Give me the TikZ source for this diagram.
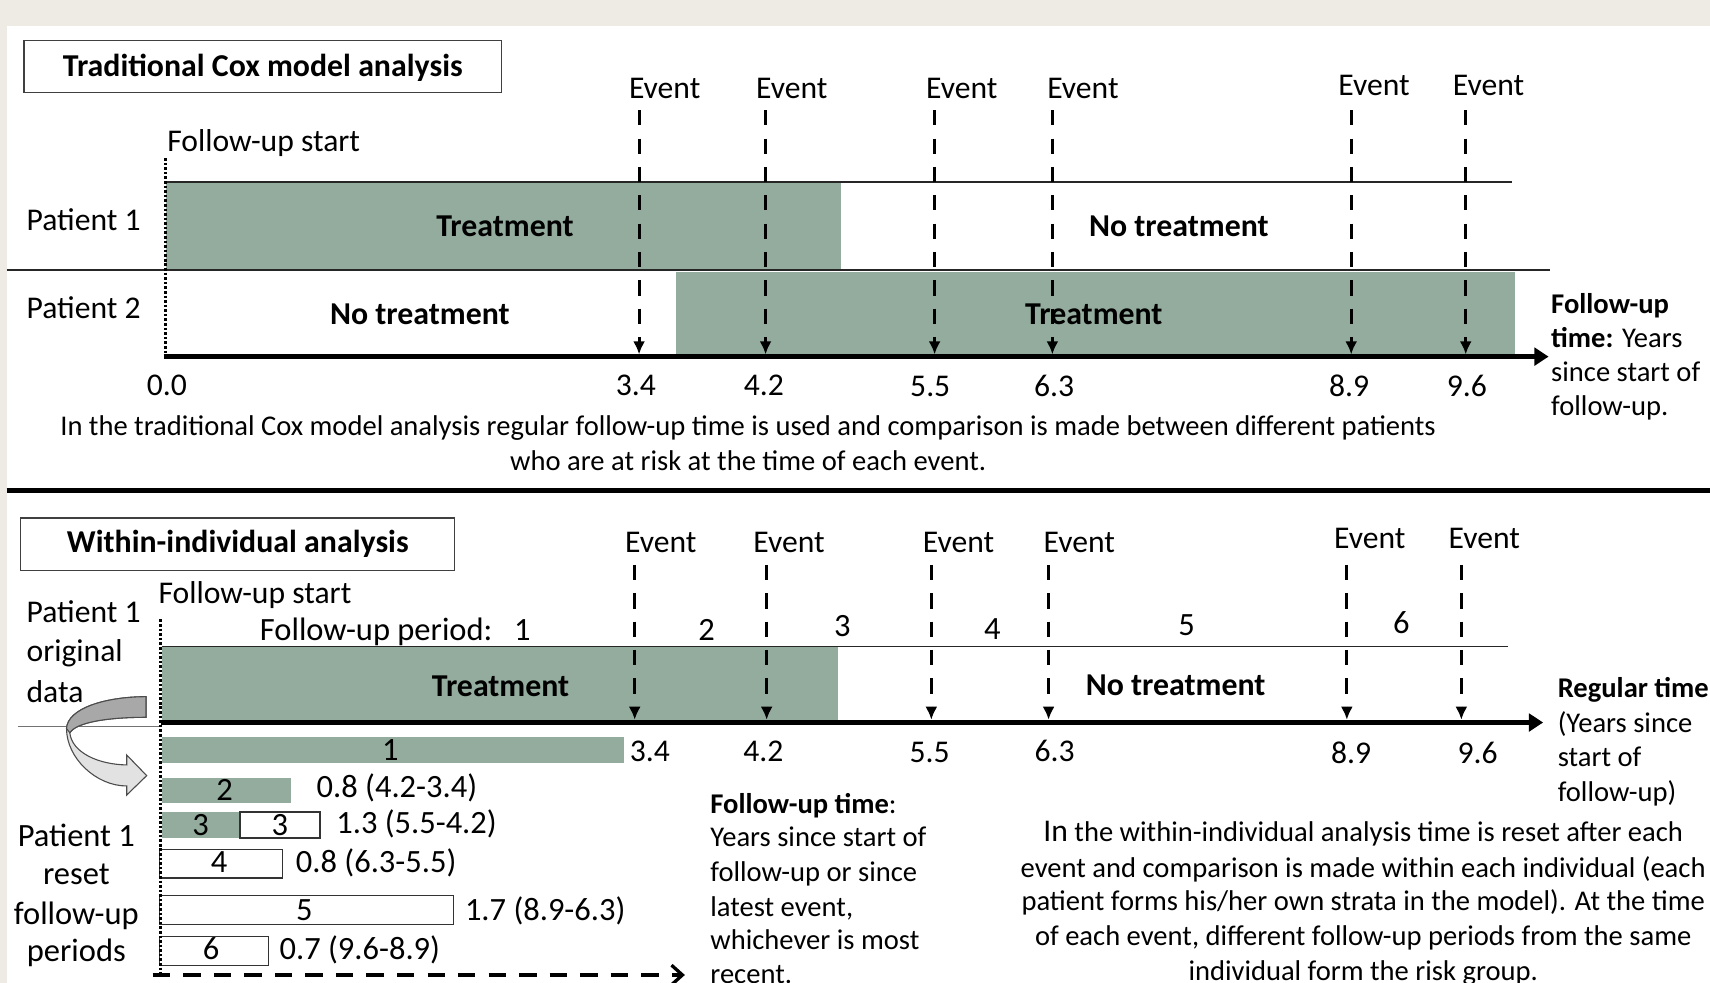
\documentclass[tikz,border=0pt]{standalone}
\usepackage{fontspec}
\setmainfont{Carlito}
\usetikzlibrary{arrows.meta}
\definecolor{grn}{RGB}{147,172,158}
\definecolor{bgc}{RGB}{238,235,228}
\definecolor{arrdark}{RGB}{168,168,168}
\definecolor{arrlight}{RGB}{226,226,226}
\begin{document}
\begin{tikzpicture}[x=0.5pt,y=-0.5pt,
  fa/.style={font=\fontsize{14.5}{17}\selectfont, inner sep=0pt},
  fab/.style={font=\fontsize{14.6}{17}\selectfont\bfseries, inner sep=0pt},
  fb/.style={font=\fontsize{13.1}{15.5}\selectfont, inner sep=0pt},
  fc/.style={font=\fontsize{14.9}{18}\selectfont, inner sep=0pt},
  evline/.style={line width=1.4pt, dash pattern=on 7pt off 6pt, -{Latex[width=5.5pt,length=6pt]}},
  dotv/.style={line width=1.3pt, dash pattern=on 1.2pt off 0.9pt},
  thinl/.style={line width=0.6pt, draw=black!85},
  axisl/.style={line width=2.3pt, -{Triangle[width=8pt,length=6.5pt]}},
  boxl/.style={draw=black!75, line width=0.6pt},
  barbox/.style={draw=black!80, line width=0.6pt, fill=white}
]
\useasboundingbox (0,0) rectangle (1568,901);
\fill[bgc] (0,0) rectangle (1568,901);
\fill[white] (6,24) rectangle (1568,901);

% ================= TOP =================
\draw[boxl] (22,37) rectangle (460,85);
\node[fab, anchor=base] (t1) at (241,70.5) {Traditional Cox model analysis};

\fill[grn] (152,168) rectangle (771,246.5);
\fill[grn] (620,249) rectangle (1389,325);
\draw[thinl] (152,167) -- (1386,167);
\draw[thinl] (6,247.5) -- (1421,247.5);

\coordinate (fs1t) at (152,145);
\coordinate (fs1b) at (152,325);
\draw[dotv] (fs1t) -- (fs1b);

\coordinate (ax1s) at (150,327);
\coordinate (ax1e) at (1420,327);
\draw[axisl] (ax1s) -- (ax1e);

\foreach \i/\x in {1/586,2/702,3/857,4/965,5/1239,6/1344}{
  \coordinate (te\i t) at (\x,101);
  \coordinate (te\i b) at (\x,325);
  \draw[evline] (te\i t) -- (te\i b);
}
\node[fa, anchor=base] (tev1) at (609.5,90) {Event};
\node[fa, anchor=base] (tev2) at (726,90) {Event};
\node[fa, anchor=base] (tev3) at (882,90) {Event};
\node[fa, anchor=base] (tev4) at (993,90) {Event};
\node[fa, anchor=base] (tev5) at (1260,87.5) {Event};
\node[fa, anchor=base] (tev6) at (1365,87.5) {Event};

\node[fa, anchor=base west] (tfs) at (153,139) {Follow-up start};
\node[fa, anchor=base west] (tp1) at (24,211) {Patient 1};
\node[fa, anchor=base west] (tp2) at (24,292) {Patient 2};
\node[fab, anchor=base] (ttr1) at (463,217) {Treatment};
\node[fab, anchor=base] (tnt1) at (1081,217) {No treatment};
\node[fab, anchor=base] (tnt2) at (385,298) {No treatment};
\node[fab, anchor=base] (ttr2) at (1003,297.5) {Treatment};

\node[fa, anchor=base] (tn0) at (153,363) {0.0};
\node[fa, anchor=base] (tn1) at (583,363) {3.4};
\node[fa, anchor=base] (tn2) at (700.5,363) {4.2};
\node[fa, anchor=base] (tn3) at (853,364) {5.5};
\node[fa, anchor=base] (tn4) at (966.5,364) {6.3};
\node[fa, anchor=base] (tn5) at (1237,364) {8.9};
\node[fa, anchor=base] (tn6) at (1345,364) {9.6};

\node[fb, anchor=base west] (tr1) at (1422,287) {\textbf{Follow-up}};
\node[fb, anchor=base west] (tr2) at (1422,319) {\textbf{time:} Years};
\node[fb, anchor=base west] (tr3) at (1422,349.5) {since start of};
\node[fb, anchor=base west] (tr4) at (1422,381) {follow-up.};

\node[fb, anchor=base] (tc1) at (686,399) {In the traditional Cox model analysis regular follow-up time is used and comparison is made between different patients};
\node[fb, anchor=base] (tc2) at (686,431) {who are at risk at the time of each event.};

\coordinate (sepl) at (6,450);
\coordinate (sepr) at (1568,450);
\draw[line width=2.3pt] (sepl) -- (sepr);

% ================= BOTTOM =================
\draw[boxl] (19,475) rectangle (417,523);
\node[fab, anchor=base] (b1) at (218,507) {Within-individual analysis};

\fill[grn] (148.5,593.5) rectangle (768,660);
\draw[thinl] (148.5,593) -- (1383,593);
\draw[line width=0.6pt, draw=black!55] (16.5,666) -- (148,666);

\coordinate (ax2s) at (148,662.5);
\coordinate (ax2e) at (1415,662.5);
\draw[axisl] (ax2s) -- (ax2e);

\foreach \i/\x in {1/582,2/703,3/854,4/961.5,5/1235,6/1340}{
  \coordinate (be\i t) at (\x,518);
  \coordinate (be\i b) at (\x,660);
  \draw[evline] (be\i t) -- (be\i b);
}
\node[fa, anchor=base] (bev1) at (606,507) {Event};
\node[fa, anchor=base] (bev2) at (723.6,507) {Event};
\node[fa, anchor=base] (bev3) at (879,507) {Event};
\node[fa, anchor=base] (bev4) at (989.6,507) {Event};
\node[fa, anchor=base] (bev5) at (1256,503) {Event};
\node[fa, anchor=base] (bev6) at (1361,503) {Event};

\node[fa, anchor=base west] (bfs) at (145,553) {Follow-up start};
\node[fa, anchor=base west] (bo1) at (24,571) {Patient 1};
\node[fa, anchor=base west] (bo2) at (24,607) {original};
\node[fa, anchor=base west] (bo3) at (24,644) {data};

\node[fc, anchor=base west] (bfp) at (238,587) {Follow-up period:};
\node[fc, anchor=base] (bp1) at (479,587) {1};
\node[fc, anchor=base] (bp2) at (648,587) {2};
\node[fc, anchor=base] (bp3) at (772.5,584) {3};
\node[fc, anchor=base] (bp4) at (910,586) {4};
\node[fc, anchor=base] (bp5) at (1088,582.5) {5};
\node[fc, anchor=base] (bp6) at (1285,581) {6};

\node[fab, anchor=base] (btr) at (459,639) {Treatment};
\node[fab, anchor=base] (bnt) at (1078,638) {No treatment};

\node[fa, anchor=base] (bn1) at (596,698) {3.4};
\node[fa, anchor=base] (bn2) at (700,698) {4.2};
\node[fa, anchor=base] (bn3) at (852.5,699) {5.5};
\node[fa, anchor=base] (bn4) at (967,698) {6.3};
\node[fa, anchor=base] (bn5) at (1239,700) {8.9};
\node[fa, anchor=base] (bn6) at (1355,700) {9.6};

\node[fb, anchor=base west] (br1) at (1428,640) {\textbf{Regular time}};
\node[fb, anchor=base west] (br2) at (1428,672) {(Years since};
\node[fb, anchor=base west] (br3) at (1428,703) {start of};
\node[fb, anchor=base west] (br4) at (1428,735) {follow-up)};

% reset follow-up bars
\fill[grn] (148.5,676) rectangle (572,700);
\fill[grn] (148.5,713) rectangle (266.5,736);
\fill[grn] (148.5,744.5) rectangle (220,768.5);
\draw[barbox] (220,744.5) rectangle (293.5,768.5);
\draw[barbox] (146,779) rectangle (259,805);
\draw[barbox] (146,821) rectangle (416,848);
\draw[barbox] (146,859) rectangle (246.5,885);

\coordinate (fs2t) at (147.5,568);
\coordinate (fs2b) at (147.5,893);
\draw[dotv] (fs2t) -- (fs2b);

\node[fc, anchor=base] (r1) at (358,697) {1};
\node[fc, anchor=base] (r2) at (206,734) {2};
\node[fc, anchor=base] (r3a) at (184,766) {3};
\node[fc, anchor=base] (r3b) at (256.7,766) {3};
\node[fc, anchor=base] (r4) at (201,800) {4};
\node[fc, anchor=base] (r5) at (279,844) {5};
\node[fc, anchor=base] (r6) at (193.6,880) {6};
\node[fc, anchor=base west] (rl2) at (290,731) {0.8 (4.2-3.4)};
\node[fc, anchor=base west] (rl3) at (308,764) {1.3 (5.5-4.2)};
\node[fc, anchor=base west] (rl4) at (271,800) {0.8 (6.3-5.5)};
\node[fc, anchor=base west] (rl5) at (426,844) {1.7 (8.9-6.3)};
\node[fc, anchor=base west] (rl6) at (256,880) {0.7 (9.6-8.9)};

\coordinate (dsa) at (140,894);
\coordinate (dsb) at (628,894);
\draw[line width=1.5pt, dash pattern=on 8pt off 6pt, -{Straight Barb[length=5pt,width=9pt]}] (dsa) -- (dsb);

\node[fc, anchor=base] (pr1) at (70,776) {Patient 1};
\node[fc, anchor=base] (pr2) at (70,811) {reset};
\node[fc, anchor=base] (pr3) at (70,848) {follow-up};
\node[fc, anchor=base] (pr4) at (70,882) {periods};

\node[fb, anchor=base west] (ft1) at (651,746) {\textbf{Follow-up time}:};
\node[fb, anchor=base west] (ft2) at (651,776) {Years since start of};
\node[fb, anchor=base west] (ft3) at (651,808) {follow-up or since};
\node[fb, anchor=base west] (ft4) at (651,840) {latest event,};
\node[fb, anchor=base west] (ft5) at (651,871) {whichever is most};
\node[fb, anchor=base west] (ft6) at (651,902) {recent.};

\node[fb, anchor=base] (wc1) at (1250,772) {{\fontsize{14.5}{17}\selectfont In} the within-individual analysis time is reset after each};
\node[fb, anchor=base] (wc2) at (1250,804.5) {event and comparison is made within each individual (each};
\node[fb, anchor=base] (wc3) at (1250,835) {patient forms his/her own strata in the model). At the time};
\node[fb, anchor=base] (wc4) at (1250,867) {of each event, different follow-up periods from the same};
\node[fb, anchor=base] (wc5) at (1250,899) {individual form the risk group.};

% curved arrow
\filldraw[fill=arrlight, draw=black!70, line width=0.5pt]
  (133.9,638.8) .. controls (95,639) and (62,650) .. (61,668)
  .. controls (61,695) and (88,720.7) .. (116.2,720.7)
  -- (116.2,729) -- (134.5,711.2) -- (116.2,692.3) -- (116.2,701.4)
  .. controls (90,701) and (66,690) .. (64,672)
  .. controls (70,662) and (100,657.7) .. (133.9,657.7) -- cycle;
\filldraw[fill=arrdark, draw=black!70, line width=0.5pt]
  (133.9,638.8) .. controls (95,639) and (62,650) .. (61,668)
  -- (64,672)
  .. controls (70,662) and (100,657.7) .. (133.9,657.7) -- cycle;
\end{tikzpicture}
\end{document}
